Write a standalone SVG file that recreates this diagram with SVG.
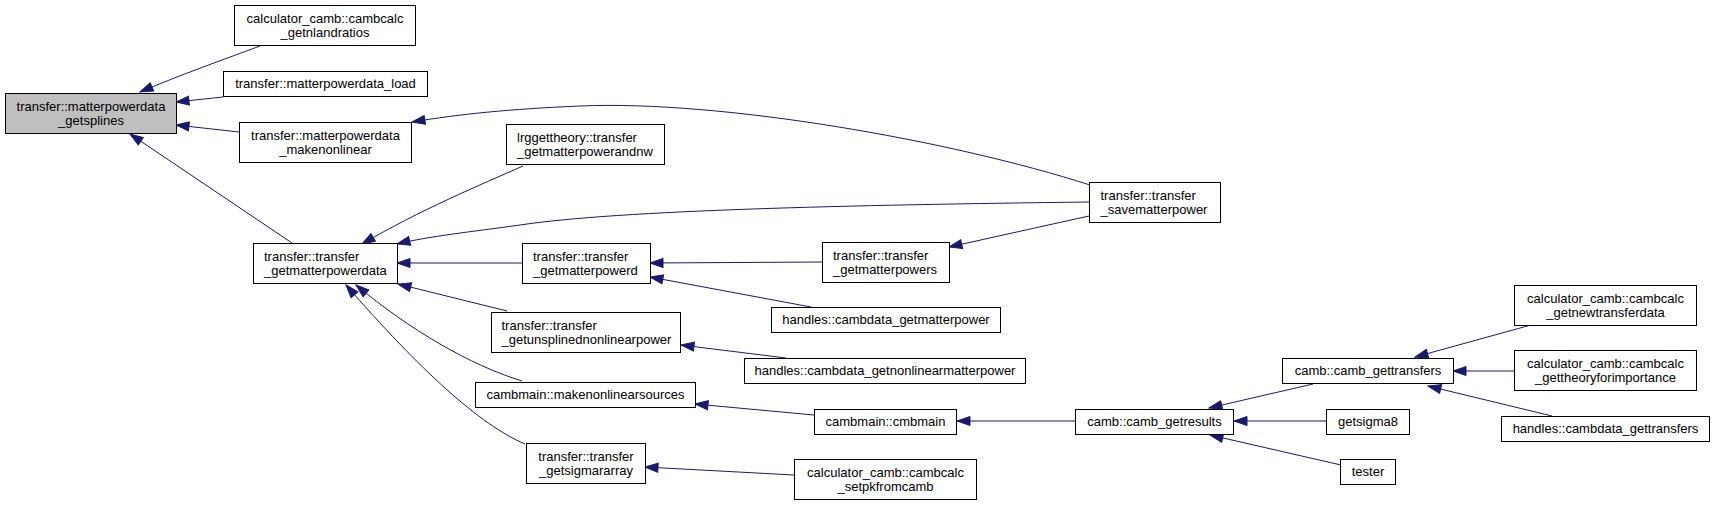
<svg xmlns="http://www.w3.org/2000/svg" width="1715" height="505" viewBox="0 0 1715 505">
<style>
.n rect{fill:#ffffff;stroke:#000000;stroke-width:1}
.n.hl rect{fill:#bfbfbf}
.n text{font-family:"Liberation Sans",Arial,Helvetica,sans-serif;font-size:13px;fill:#000000}
.c{text-anchor:middle}
.l{text-anchor:start}
.e path{fill:none;stroke:#191970;stroke-width:1;marker-end:url(#ah)}
</style>
<defs>
<marker id="ah" markerUnits="userSpaceOnUse" markerWidth="13" markerHeight="10" refX="13" refY="5" orient="auto" overflow="visible">
<path d="M0,0.5 L13,5 L0,9.5 z" fill="#191970" stroke="#191970" stroke-width="1"/>
</marker>
</defs>
<rect x="0" y="0" width="1715" height="505" fill="#ffffff"/>
<g id="edges" class="e">
<path d="M260,46 C225,59 180,75 140,92"/>
<path d="M223,97 L176,102"/>
<path d="M239,132 L176,125"/>
<path d="M292,243 L130,134"/>
<path d="M1090,185 C950,140 720,100 580,106 C510,109 460,114 412,122"/>
<path d="M523,166 C480,185 420,210 362,244"/>
<path d="M1089,202 C850,205 620,210 520,225 C470,232 430,236 397,244"/>
<path d="M522,263 L397,263"/>
<path d="M507,311 L398,284"/>
<path d="M522,381 C470,365 410,330 356,285"/>
<path d="M525,444 C480,425 420,370 346,285"/>
<path d="M822,262 L650,263"/>
<path d="M811,307 L650,277"/>
<path d="M1089,216 L949,247"/>
<path d="M786,358 L681,345"/>
<path d="M814,415 L695,404"/>
<path d="M794,475 L645,467"/>
<path d="M1075,421 L957,421"/>
<path d="M1313,384 L1209,408"/>
<path d="M1326,421 L1234,421"/>
<path d="M1341,465 L1210,435"/>
<path d="M1531,325 L1415,357"/>
<path d="M1514,371 L1453,371"/>
<path d="M1552,416 L1428,386"/>
</g>
<g id="n0" class="n hl"><rect x="5.5" y="93.5" width="171" height="40"/><text class="c" x="91" y="110.5">transfer::matterpowerdata</text><text class="c" x="91" y="124.5">_getsplines</text></g>
<g id="n1" class="n"><rect x="234.5" y="5.5" width="181" height="40"/><text class="c" x="325" y="22.5">calculator_camb::cambcalc</text><text class="c" x="325" y="36.5">_getnlandratios</text></g>
<g id="n2" class="n"><rect x="223.5" y="71.5" width="204" height="25"/><text class="c" x="325.5" y="88">transfer::matterpowerdata_load</text></g>
<g id="n3" class="n"><rect x="239.5" y="122.5" width="172" height="40"/><text class="c" x="325.5" y="139.5">transfer::matterpowerdata</text><text class="c" x="325.5" y="153.5">_makenonlinear</text></g>
<g id="n4" class="n"><rect x="253.5" y="243.5" width="144" height="40"/><text class="l" x="264" y="260.5">transfer::transfer</text><text class="l" x="264" y="274.5">_getmatterpowerdata</text></g>
<g id="n5" class="n"><rect x="506.5" y="124.5" width="158" height="40"/><text class="l" x="517" y="141.5">lrggettheory::transfer</text><text class="l" x="517" y="155.5">_getmatterpowerandnw</text></g>
<g id="n6" class="n"><rect x="522.5" y="243.5" width="128" height="40"/><text class="l" x="533" y="260.5">transfer::transfer</text><text class="l" x="533" y="274.5">_getmatterpowerd</text></g>
<g id="n7" class="n"><rect x="491.5" y="312.5" width="189" height="40"/><text class="l" x="501.5" y="329.5">transfer::transfer</text><text class="l" x="501.5" y="343.5">_getunsplinednonlinearpower</text></g>
<g id="n8" class="n"><rect x="475.5" y="382.5" width="220" height="25"/><text class="c" x="585.5" y="399">cambmain::makenonlinearsources</text></g>
<g id="n9" class="n"><rect x="526.5" y="443.5" width="119" height="40"/><text class="c" x="586" y="460.5">transfer::transfer</text><text class="c" x="586" y="474.5">_getsigmararray</text></g>
<g id="n10" class="n"><rect x="1089.5" y="182.5" width="131" height="40"/><text class="l" x="1100.5" y="199.5">transfer::transfer</text><text class="l" x="1100.5" y="213.5">_savematterpower</text></g>
<g id="n11" class="n"><rect x="822.5" y="242.5" width="127" height="40"/><text class="l" x="833" y="259.5">transfer::transfer</text><text class="l" x="833" y="273.5">_getmatterpowers</text></g>
<g id="n12" class="n"><rect x="771.5" y="307.5" width="229" height="25"/><text class="c" x="886" y="324">handles::cambdata_getmatterpower</text></g>
<g id="n13" class="n"><rect x="744.5" y="358.5" width="281" height="25"/><text class="c" x="885" y="375">handles::cambdata_getnonlinearmatterpower</text></g>
<g id="n14" class="n"><rect x="814.5" y="409.5" width="142" height="25"/><text class="c" x="885.5" y="426">cambmain::cmbmain</text></g>
<g id="n15" class="n"><rect x="794.5" y="459.5" width="182" height="40"/><text class="c" x="885.5" y="476.5">calculator_camb::cambcalc</text><text class="c" x="885.5" y="490.5">_setpkfromcamb</text></g>
<g id="n16" class="n"><rect x="1075.5" y="409.5" width="158" height="25"/><text class="c" x="1154.5" y="426">camb::camb_getresults</text></g>
<g id="n17" class="n"><rect x="1282.5" y="358.5" width="171" height="25"/><text class="c" x="1368" y="375">camb::camb_gettransfers</text></g>
<g id="n18" class="n"><rect x="1326.5" y="409.5" width="83" height="25"/><text class="c" x="1368" y="426">getsigma8</text></g>
<g id="n19" class="n"><rect x="1340.5" y="459.5" width="55" height="25"/><text class="c" x="1368" y="476">tester</text></g>
<g id="n20" class="n"><rect x="1514.5" y="285.5" width="182" height="40"/><text class="c" x="1605.5" y="302.5">calculator_camb::cambcalc</text><text class="c" x="1605.5" y="316.5">_getnewtransferdata</text></g>
<g id="n21" class="n"><rect x="1514.5" y="350.5" width="182" height="40"/><text class="c" x="1605.5" y="367.5">calculator_camb::cambcalc</text><text class="c" x="1605.5" y="381.5">_gettheoryforimportance</text></g>
<g id="n22" class="n"><rect x="1501.5" y="416.5" width="208" height="25"/><text class="c" x="1605.5" y="433">handles::cambdata_gettransfers</text></g>
</svg>
